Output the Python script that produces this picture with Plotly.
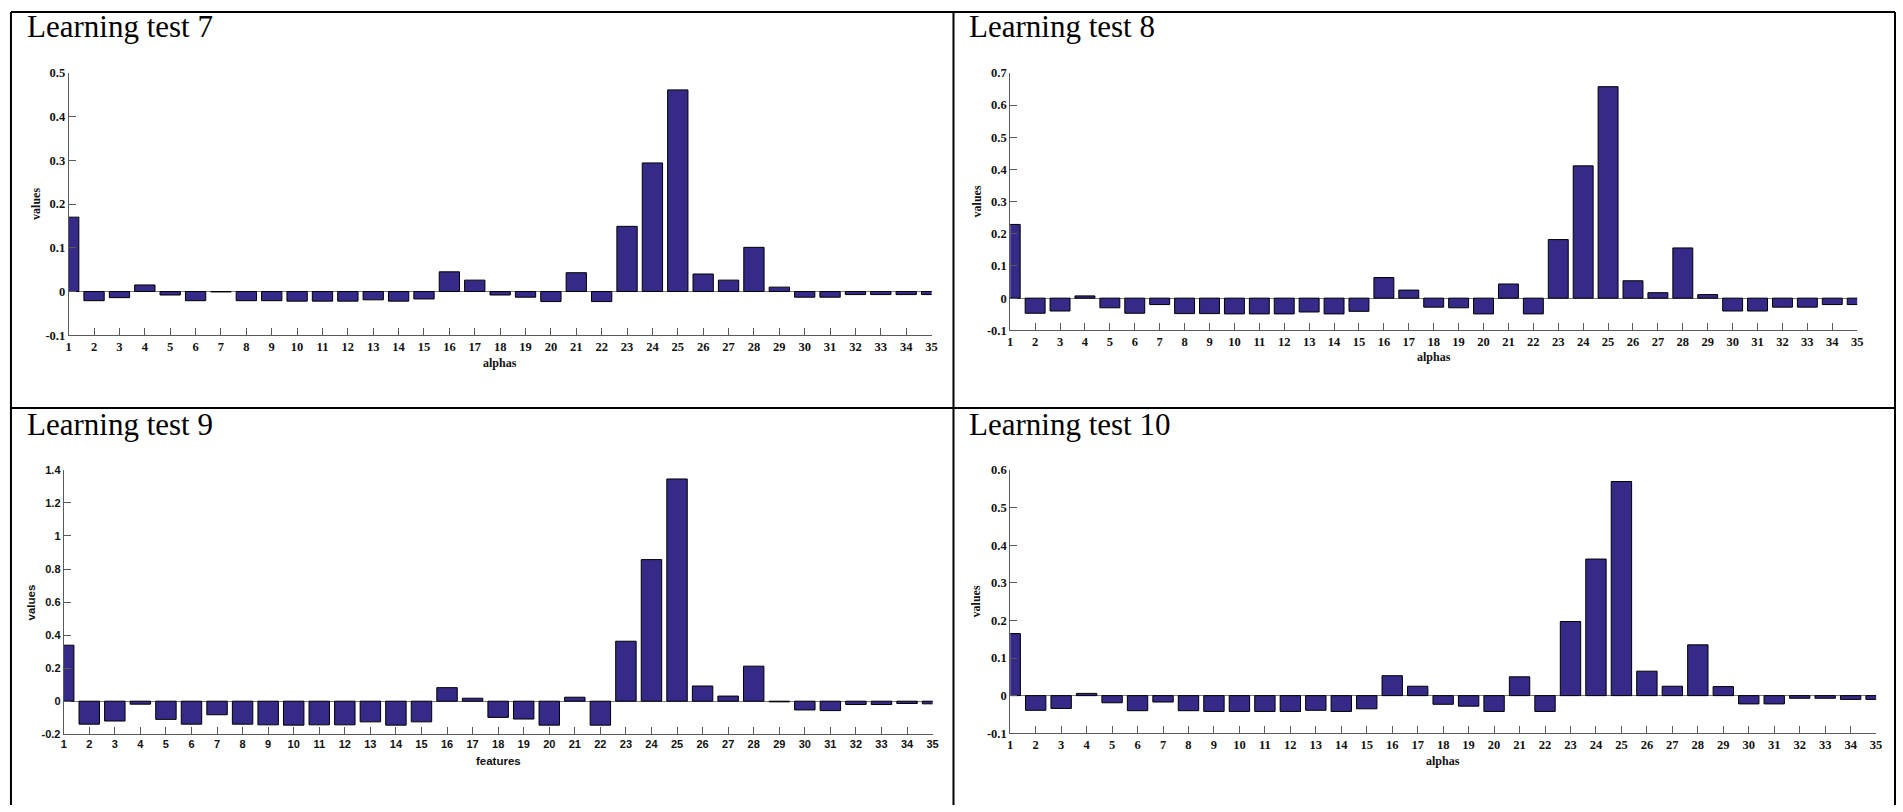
import plotly.graph_objects as go

# ---- data -------------------------------------------------------------
features = list(range(1, 36))
feature_labels = [str(i) for i in features]

test7 = [0.170, -0.021, -0.014, 0.015, -0.008, -0.021, -0.001, -0.021, -0.021, -0.022,
         -0.022, -0.022, -0.019, -0.022, -0.017, 0.045, 0.026, -0.008, -0.013, -0.023,
         0.043, -0.023, 0.149, 0.294, 0.461, 0.040, 0.026, 0.101, 0.010, -0.013,
         -0.013, -0.007, -0.007, -0.007, -0.007]

test8 = [0.229, -0.047, -0.040, 0.007, -0.030, -0.047, -0.020, -0.048, -0.048, -0.049,
         -0.049, -0.049, -0.043, -0.049, -0.041, 0.064, 0.025, -0.028, -0.030, -0.049,
         0.044, -0.049, 0.182, 0.411, 0.657, 0.054, 0.017, 0.156, 0.011, -0.040,
         -0.040, -0.028, -0.028, -0.020, -0.020]

test9 = [0.339, -0.139, -0.120, -0.018, -0.110, -0.139, -0.082, -0.139, -0.143, -0.145,
         -0.143, -0.143, -0.125, -0.145, -0.125, 0.082, 0.018, -0.098, -0.108, -0.145,
         0.024, -0.145, 0.363, 0.857, 1.345, 0.092, 0.031, 0.212, -0.004, -0.053,
         -0.057, -0.020, -0.020, -0.014, -0.016]

test10 = [0.165, -0.039, -0.034, 0.006, -0.019, -0.040, -0.017, -0.040, -0.042, -0.042,
          -0.042, -0.042, -0.039, -0.042, -0.035, 0.053, 0.025, -0.023, -0.028, -0.042,
          0.050, -0.042, 0.197, 0.363, 0.569, 0.065, 0.025, 0.135, 0.024, -0.022,
          -0.022, -0.007, -0.007, -0.010, -0.010]

yticks7 = [-0.1, 0, 0.1, 0.2, 0.3, 0.4, 0.5]
ylabels7 = ["-0.1", "0", "0.1", "0.2", "0.3", "0.4", "0.5"]
yticks8 = [-0.1, 0, 0.1, 0.2, 0.3, 0.4, 0.5, 0.6, 0.7]
ylabels8 = ["-0.1", "0", "0.1", "0.2", "0.3", "0.4", "0.5", "0.6", "0.7"]
yticks9 = [-0.2, 0, 0.2, 0.4, 0.6, 0.8, 1.0, 1.2, 1.4]
ylabels9 = ["-0.2", "0", "0.2", "0.4", "0.6", "0.8", "1", "1.2", "1.4"]
yticks10 = [-0.1, 0, 0.1, 0.2, 0.3, 0.4, 0.5, 0.6]
ylabels10 = ["-0.1", "0", "0.1", "0.2", "0.3", "0.4", "0.5", "0.6"]

titles = ["Learning test 7", "Learning test 8", "Learning test 9", "Learning test 10"]
xtitles = ["alphas", "alphas", "features", "alphas"]
ytitle = "values"

# ---- page geometry (pixels) --------------------------------------------
W, H = 1903, 812


def fx(p):
    return p / W


def fy(p):
    return 1 - p / H


BAR_FILL = "#352a87"
AXIS_GREY = "#5a5a5a"
SERIF = "Liberation Serif, Times New Roman, serif"
SANS = "Liberation Sans, Arial, sans-serif"

panels = [
    # values, ticks, labels, x px domain, y px domain (top, bottom), font, tick size, title pos, xlabel pos, ylabel pos
    dict(vals=test7, yt=yticks7, yl=ylabels7, xd=(66, 933), yd=(67, 334),
         font=SERIF, ts=12.5, ls=12, title=(22, 20), xl=(499.5, 362), yl_pos=(32.5, 200)),
    dict(vals=test8, yt=yticks8, yl=ylabels8, xd=(1012, 1863), yd=(67, 329),
         font=SERIF, ts=12.5, ls=12, title=(969, 20), xl=(1437.5, 356), yl_pos=(978.5, 198)),
    dict(vals=test9, yt=yticks9, yl=ylabels9, xd=(61, 934), yd=(471, 740),
         font=SANS, ts=11, ls=11.5, title=(22, 425), xl=(497.5, 767.5), yl_pos=(28.5, 605.5)),
    dict(vals=test10, yt=yticks10, yl=ylabels10, xd=(1012, 1882), yd=(471, 739),
         font=SERIF, ts=12.5, ls=12, title=(969, 425), xl=(1447, 767), yl_pos=(977.5, 605)),
]

fig = go.Figure()
layout = dict(
    width=W, height=H,
    margin=dict(l=0, r=0, t=0, b=0),
    paper_bgcolor="white", plot_bgcolor="white",
    showlegend=False,
    bargap=0.2,
)
annotations = []

for i, p in enumerate(panels, start=1):
    xa = "x" if i == 1 else f"x{i}"
    ya = "y" if i == 1 else f"y{i}"
    fig.add_trace(go.Bar(
        x=features, y=p["vals"], width=0.8,
        marker=dict(color=BAR_FILL, line=dict(color="#000000", width=1)),
        xaxis=xa, yaxis=ya, hoverinfo="x+y",
    ))
    tick_font = dict(family=p["font"], size=p["ts"], color="#111111", weight="bold")
    layout["xaxis" if i == 1 else f"xaxis{i}"] = dict(
        domain=[fx(p["xd"][0]), fx(p["xd"][1])],
        anchor=ya, range=[1, 35],
        tickmode="array", tickvals=features, ticktext=feature_labels,
        ticks="inside", ticklen=7, tickwidth=1, tickcolor=AXIS_GREY,
        showline=True, linecolor=AXIS_GREY, linewidth=1,
        showgrid=False, zeroline=False, tickfont=tick_font, fixedrange=True,
    )
    layout["yaxis" if i == 1 else f"yaxis{i}"] = dict(
        domain=[fy(p["yd"][1]), fy(p["yd"][0])],
        anchor=xa, range=[p["yt"][0], p["yt"][-1]],
        tickmode="array", tickvals=p["yt"], ticktext=p["yl"],
        ticks="inside", ticklen=7, tickwidth=1, tickcolor=AXIS_GREY,
        showline=True, linecolor=AXIS_GREY, linewidth=1,
        showgrid=False, zeroline=True, zerolinecolor="#7a7a7a", zerolinewidth=1,
        tickfont=tick_font, fixedrange=True,
    )
    label_font = dict(family=p["font"], size=p["ls"], color="#111111", weight="bold")
    annotations.append(dict(
        text=titles[i - 1], xref="paper", yref="paper",
        x=fx(p["title"][0]), y=fy(p["title"][1]), xanchor="left", yanchor="middle",
        showarrow=False, font=dict(family=SERIF, size=31, color="#000000"),
    ))
    annotations.append(dict(
        text=xtitles[i - 1], xref="paper", yref="paper",
        x=fx(p["xl"][0]), y=fy(p["xl"][1]), xanchor="center", yanchor="middle",
        showarrow=False, font=label_font,
    ))
    annotations.append(dict(
        text=ytitle, xref="paper", yref="paper", textangle=-90,
        x=fx(p["yl_pos"][0]), y=fy(p["yl_pos"][1]), xanchor="center", yanchor="middle",
        showarrow=False, font=label_font,
    ))

layout["annotations"] = annotations

# table-style frame around the four panels
frame = dict(color="#000000", width=2)
layout["shapes"] = [
    dict(type="line", xref="paper", yref="paper", x0=fx(8), x1=fx(1901), y0=fy(5), y1=fy(5), line=frame),
    dict(type="line", xref="paper", yref="paper", x0=fx(8), x1=fx(1901), y0=fy(408), y1=fy(408), line=frame),
    dict(type="line", xref="paper", yref="paper", x0=fx(8), x1=fx(8), y0=fy(5), y1=fy(812), line=frame),
    dict(type="line", xref="paper", yref="paper", x0=fx(955), x1=fx(955), y0=fy(5), y1=fy(812), line=frame),
    dict(type="line", xref="paper", yref="paper", x0=fx(1901), x1=fx(1901), y0=fy(5), y1=fy(812), line=frame),
]

fig.update_layout(**layout)
fig.write_html("out.html", config={"displayModeBar": False})
